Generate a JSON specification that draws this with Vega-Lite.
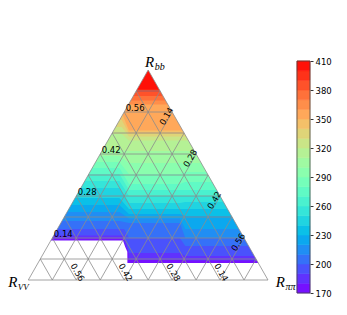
{
  "$schema": "https://vega.github.io/schema/vega-lite/v6.json",
  "autosize": {"type": "none"},
  "width": 310,
  "height": 232,
  "padding": {"left": 0, "top": 61, "right": 37, "bottom": 22},
  "background": "white",
  "config": {"view": {"stroke": null}},
  "datasets": {
    "contours": [
      {"v":175,"x":-0.1,"y":0.1881},{"v":175,"x":0.395,"y":0.1881},{"v":175,"x":0.404,"y":0.158},{"v":175,"x":0.413,"y":0.135},{"v":175,"x":0.4135,"y":0.081},{"v":175,"x":1.1,"y":0.081},
      {"v":185,"x":-0.1,"y":0.1976},{"v":185,"x":0.394,"y":0.1976},{"v":185,"x":0.408,"y":0.158},{"v":185,"x":0.418,"y":0.135},{"v":185,"x":0.419,"y":0.0952},{"v":185,"x":0.632,"y":0.0952},{"v":185,"x":0.655,"y":0.0929},{"v":185,"x":1.1,"y":0.0929},
      {"v":195,"x":-0.1,"y":0.2119},{"v":195,"x":0.4,"y":0.2119},{"v":195,"x":0.42,"y":0.1286},{"v":195,"x":0.632,"y":0.1286},{"v":195,"x":0.655,"y":0.1143},{"v":195,"x":1.1,"y":0.1143},
      {"v":205,"x":-0.1,"y":0.2429},{"v":205,"x":0.4,"y":0.2429},{"v":205,"x":0.42,"y":0.2},{"v":205,"x":0.632,"y":0.2},{"v":205,"x":0.655,"y":0.1619},{"v":205,"x":1.1,"y":0.1619},
      {"v":215,"x":-0.1,"y":0.281},{"v":215,"x":0.38,"y":0.281},{"v":215,"x":0.42,"y":0.2714},{"v":215,"x":0.632,"y":0.2714},{"v":215,"x":0.655,"y":0.2},{"v":215,"x":1.1,"y":0.2},
      {"v":225,"x":-0.1,"y":0.3238},{"v":225,"x":0.38,"y":0.3238},{"v":225,"x":0.42,"y":0.2929},{"v":225,"x":0.632,"y":0.2929},{"v":225,"x":0.655,"y":0.2429},{"v":225,"x":1.1,"y":0.2429},
      {"v":235,"x":-0.1,"y":0.3571},{"v":235,"x":0.38,"y":0.3571},{"v":235,"x":0.42,"y":0.3143},{"v":235,"x":0.632,"y":0.3143},{"v":235,"x":0.655,"y":0.3048},{"v":235,"x":1.1,"y":0.3048},
      {"v":245,"x":-0.1,"y":0.3905},{"v":245,"x":0.38,"y":0.3905},{"v":245,"x":0.42,"y":0.3381},{"v":245,"x":0.632,"y":0.3381},{"v":245,"x":0.655,"y":0.3381},{"v":245,"x":1.1,"y":0.3381},
      {"v":255,"x":-0.1,"y":0.4381},{"v":255,"x":0.38,"y":0.4381},{"v":255,"x":0.42,"y":0.3667},{"v":255,"x":0.632,"y":0.3667},{"v":255,"x":0.655,"y":0.3714},{"v":255,"x":1.1,"y":0.3714},
      {"v":265,"x":-0.1,"y":0.4714},{"v":265,"x":0.38,"y":0.4714},{"v":265,"x":0.42,"y":0.4},{"v":265,"x":0.632,"y":0.4},{"v":265,"x":0.655,"y":0.4},{"v":265,"x":1.1,"y":0.4},
      {"v":275,"x":-0.1,"y":0.5048},{"v":275,"x":0.38,"y":0.5048},{"v":275,"x":0.42,"y":0.4286},{"v":275,"x":0.632,"y":0.4286},{"v":275,"x":0.655,"y":0.4286},{"v":275,"x":1.1,"y":0.4286},
      {"v":285,"x":-0.1,"y":0.5333},{"v":285,"x":0.38,"y":0.5333},{"v":285,"x":0.42,"y":0.4571},{"v":285,"x":0.632,"y":0.4571},{"v":285,"x":0.655,"y":0.4667},{"v":285,"x":1.1,"y":0.4667},
      {"v":295,"x":-0.1,"y":0.5619},{"v":295,"x":0.38,"y":0.5619},{"v":295,"x":0.42,"y":0.5048},{"v":295,"x":0.632,"y":0.5048},{"v":295,"x":0.655,"y":0.5143},{"v":295,"x":1.1,"y":0.5143},
      {"v":305,"x":-0.1,"y":0.5905},{"v":305,"x":0.38,"y":0.5905},{"v":305,"x":0.42,"y":0.5571},{"v":305,"x":0.632,"y":0.5571},{"v":305,"x":0.655,"y":0.5571},{"v":305,"x":1.1,"y":0.5571},
      {"v":315,"x":-0.1,"y":0.619},{"v":315,"x":0.38,"y":0.619},{"v":315,"x":0.42,"y":0.6143},{"v":315,"x":0.632,"y":0.6143},{"v":315,"x":0.655,"y":0.6143},{"v":315,"x":1.1,"y":0.6143},
      {"v":325,"x":-0.1,"y":0.6952},{"v":325,"x":0.39,"y":0.6952},{"v":325,"x":0.42,"y":0.6643},{"v":325,"x":1.1,"y":0.6643},
      {"v":335,"x":-0.1,"y":0.7286},{"v":335,"x":0.39,"y":0.7286},{"v":335,"x":0.42,"y":0.6833},{"v":335,"x":1.1,"y":0.6833},
      {"v":345,"x":-0.1,"y":0.7619},{"v":345,"x":0.39,"y":0.7619},{"v":345,"x":0.42,"y":0.6976},{"v":345,"x":1.1,"y":0.6976},
      {"v":355,"x":-0.1,"y":0.7952},{"v":355,"x":0.39,"y":0.7952},{"v":355,"x":0.42,"y":0.7119},{"v":355,"x":1.1,"y":0.7119},
      {"v":365,"x":-0.1,"y":0.8357},{"v":365,"x":1.1,"y":0.8357},
      {"v":375,"x":-0.1,"y":0.8548},{"v":375,"x":1.1,"y":0.8548},
      {"v":385,"x":-0.1,"y":0.8762},{"v":385,"x":1.1,"y":0.8762},
      {"v":395,"x":-0.1,"y":0.8952},{"v":395,"x":1.1,"y":0.8952},
      {"v":405,"x":-0.1,"y":0.9071},{"v":405,"x":1.1,"y":0.9071}
    ],
    "grid": [
      {"x":0,"y":0,"x2":1,"y2":0},{"x":0.05,"y":0.1,"x2":0.95,"y2":0.1},{"x":0.1,"y":0.2,"x2":0.9,"y2":0.2},{"x":0.15,"y":0.3,"x2":0.85,"y2":0.3},{"x":0.2,"y":0.4,"x2":0.8,"y2":0.4},
      {"x":0.25,"y":0.5,"x2":0.75,"y2":0.5},{"x":0.3,"y":0.6,"x2":0.7,"y2":0.6},{"x":0.35,"y":0.7,"x2":0.65,"y2":0.7},{"x":0.4,"y":0.8,"x2":0.6,"y2":0.8},{"x":0.45,"y":0.9,"x2":0.55,"y2":0.9},
      {"x":0,"y":0,"x2":0.5,"y2":1},{"x":0.1,"y":0,"x2":0.55,"y2":0.9},{"x":0.2,"y":0,"x2":0.6,"y2":0.8},{"x":0.3,"y":0,"x2":0.65,"y2":0.7},{"x":0.4,"y":0,"x2":0.7,"y2":0.6},
      {"x":0.5,"y":0,"x2":0.75,"y2":0.5},{"x":0.6,"y":0,"x2":0.8,"y2":0.4},{"x":0.7,"y":0,"x2":0.85,"y2":0.3},{"x":0.8,"y":0,"x2":0.9,"y2":0.2},{"x":0.9,"y":0,"x2":0.95,"y2":0.1},
      {"x":0.1,"y":0,"x2":0.05,"y2":0.1},{"x":0.2,"y":0,"x2":0.1,"y2":0.2},{"x":0.3,"y":0,"x2":0.15,"y2":0.3},{"x":0.4,"y":0,"x2":0.2,"y2":0.4},{"x":0.5,"y":0,"x2":0.25,"y2":0.5},
      {"x":0.6,"y":0,"x2":0.3,"y2":0.6},{"x":0.7,"y":0,"x2":0.35,"y2":0.7},{"x":0.8,"y":0,"x2":0.4,"y2":0.8},{"x":0.9,"y":0,"x2":0.45,"y2":0.9},{"x":1,"y":0,"x2":0.5,"y2":1}
    ],
    "cbar": [
      {"lo":170,"hi":180,"v":175},{"lo":180,"hi":190,"v":185},{"lo":190,"hi":200,"v":195},{"lo":200,"hi":210,"v":205},{"lo":210,"hi":220,"v":215},{"lo":220,"hi":230,"v":225},
      {"lo":230,"hi":240,"v":235},{"lo":240,"hi":250,"v":245},{"lo":250,"hi":260,"v":255},{"lo":260,"hi":270,"v":265},{"lo":270,"hi":280,"v":275},{"lo":280,"hi":290,"v":285},
      {"lo":290,"hi":300,"v":295},{"lo":300,"hi":310,"v":305},{"lo":310,"hi":320,"v":315},{"lo":320,"hi":330,"v":325},{"lo":330,"hi":340,"v":335},{"lo":340,"hi":350,"v":345},
      {"lo":350,"hi":360,"v":355},{"lo":360,"hi":370,"v":365},{"lo":370,"hi":380,"v":375},{"lo":380,"hi":390,"v":385},{"lo":390,"hi":400,"v":395},{"lo":400,"hi":410,"v":405}
    ]
  },
  "layer": [
    {
      "layer": [
        {
          "data": {"name": "contours"},
          "mark": {"type": "area", "opacity": 1, "interpolate": "linear", "strokeWidth": 0},
          "encoding": {
            "x": {"field": "x", "type": "quantitative", "scale": {"domain": [-0.1181, 1.1752], "nice": false, "zero": false}, "axis": null},
            "y": {"field": "y", "type": "quantitative", "stack": null, "scale": {"domain": [-0.0619, 1.0429], "nice": false, "zero": false}, "axis": null},
            "y2": {"datum": 1.04},
            "color": {"field": "v", "type": "quantitative", "legend": null, "scale": {"type": "quantize", "domain": [170, 410], "range": ["#7511ff","#6032fe","#4a52fc","#3571f8","#208ef4","#0ba8ef","#0bc0e8","#20d4e1","#35e5d9","#4af1cf","#60fac5","#75feba","#8afeae","#9ffaa2","#b5f195","#cae587","#dfd478","#f4c069","#ffa85a","#ff8e4a","#ff713a","#ff522a","#ff3219","#ff1108"]}},
            "detail": {"field": "v", "type": "quantitative"}
          }
        },
        {
          "data": {"values": [{"x": -0.1181, "y": 0}, {"x": 0, "y": 0}, {"x": 0.5, "y": 1}, {"x": 1, "y": 0}, {"x": 1.12, "y": 0}]},
          "mark": {"type": "area", "fill": "white", "opacity": 1, "strokeWidth": 0},
          "encoding": {
            "x": {"field": "x", "type": "quantitative", "scale": {"domain": [-0.1181, 1.1752], "nice": false, "zero": false}, "axis": null},
            "y": {"field": "y", "type": "quantitative", "stack": null, "scale": {"domain": [-0.0619, 1.0429], "nice": false, "zero": false}, "axis": null},
            "y2": {"datum": 1.0429}
          }
        },
        {
          "data": {"name": "grid"},
          "mark": {"type": "rule", "stroke": "#8c8c8c", "strokeWidth": 0.8},
          "encoding": {
            "x": {"field": "x", "type": "quantitative", "scale": {"domain": [-0.1181, 1.1752], "nice": false, "zero": false}, "axis": null},
            "y": {"field": "y", "type": "quantitative", "scale": {"domain": [-0.0619, 1.0429], "nice": false, "zero": false}, "axis": null},
            "x2": {"field": "x2"},
            "y2": {"field": "y2"}
          }
        },
        {
          "data": {"values": [{"x": 0.1, "y": 0.2, "t": "0.14"}, {"x": 0.2, "y": 0.4, "t": "0.28"}, {"x": 0.3, "y": 0.6, "t": "0.42"}, {"x": 0.4, "y": 0.8, "t": "0.56"}]},
          "mark": {"type": "text", "align": "left", "baseline": "alphabetic", "dx": 1.5, "dy": -1.5, "font": "DejaVu Sans", "fontSize": 8.5, "color": "black"},
          "encoding": {
            "x": {"field": "x", "type": "quantitative", "scale": {"domain": [-0.1181, 1.1752], "nice": false, "zero": false}, "axis": null},
            "y": {"field": "y", "type": "quantitative", "scale": {"domain": [-0.0619, 1.0429], "nice": false, "zero": false}, "axis": null},
            "text": {"field": "t"}
          }
        },
        {
          "data": {"values": [{"x": 0.6, "y": 0.8, "t": "0.14"}, {"x": 0.7, "y": 0.6, "t": "0.28"}, {"x": 0.8, "y": 0.4, "t": "0.42"}, {"x": 0.9, "y": 0.2, "t": "0.56"}]},
          "mark": {"type": "text", "align": "center", "baseline": "middle", "angle": 300, "dx": -6.5, "dy": -3, "font": "DejaVu Sans", "fontSize": 8.5, "color": "black"},
          "encoding": {
            "x": {"field": "x", "type": "quantitative", "scale": {"domain": [-0.1181, 1.1752], "nice": false, "zero": false}, "axis": null},
            "y": {"field": "y", "type": "quantitative", "scale": {"domain": [-0.0619, 1.0429], "nice": false, "zero": false}, "axis": null},
            "text": {"field": "t"}
          }
        },
        {
          "data": {"values": [{"x": 0.2, "y": 0, "t": "0.56"}, {"x": 0.4, "y": 0, "t": "0.42"}, {"x": 0.6, "y": 0, "t": "0.28"}, {"x": 0.8, "y": 0, "t": "0.14"}]},
          "mark": {"type": "text", "align": "center", "baseline": "middle", "angle": 60, "dx": -6, "dy": -5, "font": "DejaVu Sans", "fontSize": 8.5, "color": "black"},
          "encoding": {
            "x": {"field": "x", "type": "quantitative", "scale": {"domain": [-0.1181, 1.1752], "nice": false, "zero": false}, "axis": null},
            "y": {"field": "y", "type": "quantitative", "scale": {"domain": [-0.0619, 1.0429], "nice": false, "zero": false}, "axis": null},
            "text": {"field": "t"}
          }
        },
        {
          "data": {"values": [{"x": 0.5, "y": 1}]},
          "mark": {"type": "text", "text": "R", "align": "right", "baseline": "alphabetic", "dx": 6, "dy": -3, "font": "Liberation Serif", "fontStyle": "italic", "fontSize": 15, "color": "black"},
          "encoding": {
            "x": {"field": "x", "type": "quantitative", "scale": {"domain": [-0.1181, 1.1752], "nice": false, "zero": false}, "axis": null},
            "y": {"field": "y", "type": "quantitative", "scale": {"domain": [-0.0619, 1.0429], "nice": false, "zero": false}, "axis": null}
          }
        },
        {
          "data": {"values": [{"x": 0.5, "y": 1}]},
          "mark": {"type": "text", "text": "bb", "align": "left", "baseline": "alphabetic", "dx": 6.5, "dy": 0, "font": "Liberation Serif", "fontStyle": "italic", "fontSize": 10, "color": "black"},
          "encoding": {
            "x": {"field": "x", "type": "quantitative", "scale": {"domain": [-0.1181, 1.1752], "nice": false, "zero": false}, "axis": null},
            "y": {"field": "y", "type": "quantitative", "scale": {"domain": [-0.0619, 1.0429], "nice": false, "zero": false}, "axis": null}
          }
        },
        {
          "data": {"values": [{"x": 0, "y": 0}]},
          "mark": {"type": "text", "text": "R", "align": "right", "baseline": "alphabetic", "dx": -11, "dy": 7, "font": "Liberation Serif", "fontStyle": "italic", "fontSize": 15, "color": "black"},
          "encoding": {
            "x": {"field": "x", "type": "quantitative", "scale": {"domain": [-0.1181, 1.1752], "nice": false, "zero": false}, "axis": null},
            "y": {"field": "y", "type": "quantitative", "scale": {"domain": [-0.0619, 1.0429], "nice": false, "zero": false}, "axis": null}
          }
        },
        {
          "data": {"values": [{"x": 0, "y": 0}]},
          "mark": {"type": "text", "text": "VV", "align": "left", "baseline": "alphabetic", "dx": -10.5, "dy": 10, "font": "Liberation Serif", "fontStyle": "italic", "fontSize": 9, "color": "black"},
          "encoding": {
            "x": {"field": "x", "type": "quantitative", "scale": {"domain": [-0.1181, 1.1752], "nice": false, "zero": false}, "axis": null},
            "y": {"field": "y", "type": "quantitative", "scale": {"domain": [-0.0619, 1.0429], "nice": false, "zero": false}, "axis": null}
          }
        },
        {
          "data": {"values": [{"x": 1, "y": 0}]},
          "mark": {"type": "text", "text": "R", "align": "right", "baseline": "alphabetic", "dx": 17, "dy": 7, "font": "Liberation Serif", "fontStyle": "italic", "fontSize": 15, "color": "black"},
          "encoding": {
            "x": {"field": "x", "type": "quantitative", "scale": {"domain": [-0.1181, 1.1752], "nice": false, "zero": false}, "axis": null},
            "y": {"field": "y", "type": "quantitative", "scale": {"domain": [-0.0619, 1.0429], "nice": false, "zero": false}, "axis": null}
          }
        },
        {
          "data": {"values": [{"x": 1, "y": 0}]},
          "mark": {"type": "text", "text": "ππ", "align": "left", "baseline": "alphabetic", "dx": 17.5, "dy": 10, "font": "Liberation Serif", "fontStyle": "italic", "fontSize": 10, "color": "black"},
          "encoding": {
            "x": {"field": "x", "type": "quantitative", "scale": {"domain": [-0.1181, 1.1752], "nice": false, "zero": false}, "axis": null},
            "y": {"field": "y", "type": "quantitative", "scale": {"domain": [-0.0619, 1.0429], "nice": false, "zero": false}, "axis": null}
          }
        }
      ]
    },
    {
      "layer": [
        {
          "data": {"name": "cbar"},
          "mark": {"type": "rect", "strokeWidth": 0.6},
          "encoding": {
            "x": {"datum": 0, "type": "quantitative", "scale": {"domain": [-22.846, 1], "nice": false, "zero": false}, "axis": null},
            "x2": {"datum": 1},
            "y": {"field": "lo", "type": "quantitative", "scale": {"domain": [170, 410], "nice": false, "zero": false},
                  "axis": {"orient": "right", "values": [170, 200, 230, 260, 290, 320, 350, 380, 410], "title": null, "domain": false, "grid": false, "ticks": true, "tickSize": 3, "tickColor": "#000", "tickWidth": 0.8, "labelFont": "DejaVu Sans", "labelFontSize": 8.5, "labelColor": "#000", "labelPadding": 2, "labelFlush": false, "labelOverlap": false, "labelSeparation": 0, "format": "d"}},
            "y2": {"field": "hi"},
            "color": {"field": "v", "type": "quantitative", "legend": null, "scale": {"type": "quantize", "domain": [170, 410], "range": ["#7511ff","#6032fe","#4a52fc","#3571f8","#208ef4","#0ba8ef","#0bc0e8","#20d4e1","#35e5d9","#4af1cf","#60fac5","#75feba","#8afeae","#9ffaa2","#b5f195","#cae587","#dfd478","#f4c069","#ffa85a","#ff8e4a","#ff713a","#ff522a","#ff3219","#ff1108"]}},
            "stroke": {"field": "v", "type": "quantitative", "legend": null, "scale": {"type": "quantize", "domain": [170, 410], "range": ["#7511ff","#6032fe","#4a52fc","#3571f8","#208ef4","#0ba8ef","#0bc0e8","#20d4e1","#35e5d9","#4af1cf","#60fac5","#75feba","#8afeae","#9ffaa2","#b5f195","#cae587","#dfd478","#f4c069","#ffa85a","#ff8e4a","#ff713a","#ff522a","#ff3219","#ff1108"]}}
          }
        },
        {
          "data": {"values": [{}]},
          "mark": {"type": "rect", "fill": null, "filled": false, "stroke": "#444", "strokeWidth": 0.8},
          "encoding": {
            "x": {"datum": 0, "type": "quantitative", "axis": null},
            "x2": {"datum": 1},
            "y": {"datum": 170, "type": "quantitative",
                  "axis": {"orient": "right", "values": [170, 200, 230, 260, 290, 320, 350, 380, 410], "title": null, "domain": false, "grid": false, "ticks": true, "tickSize": 3, "tickColor": "#000", "tickWidth": 0.8, "labelFont": "DejaVu Sans", "labelFontSize": 8.5, "labelColor": "#000", "labelPadding": 2, "labelFlush": false, "labelOverlap": false, "labelSeparation": 0, "format": "d"}},
            "y2": {"datum": 410}
          }
        }
      ]
    }
  ],
  "resolve": {"scale": {"x": "independent", "y": "independent"}, "axis": {"x": "independent", "y": "independent"}}
}
